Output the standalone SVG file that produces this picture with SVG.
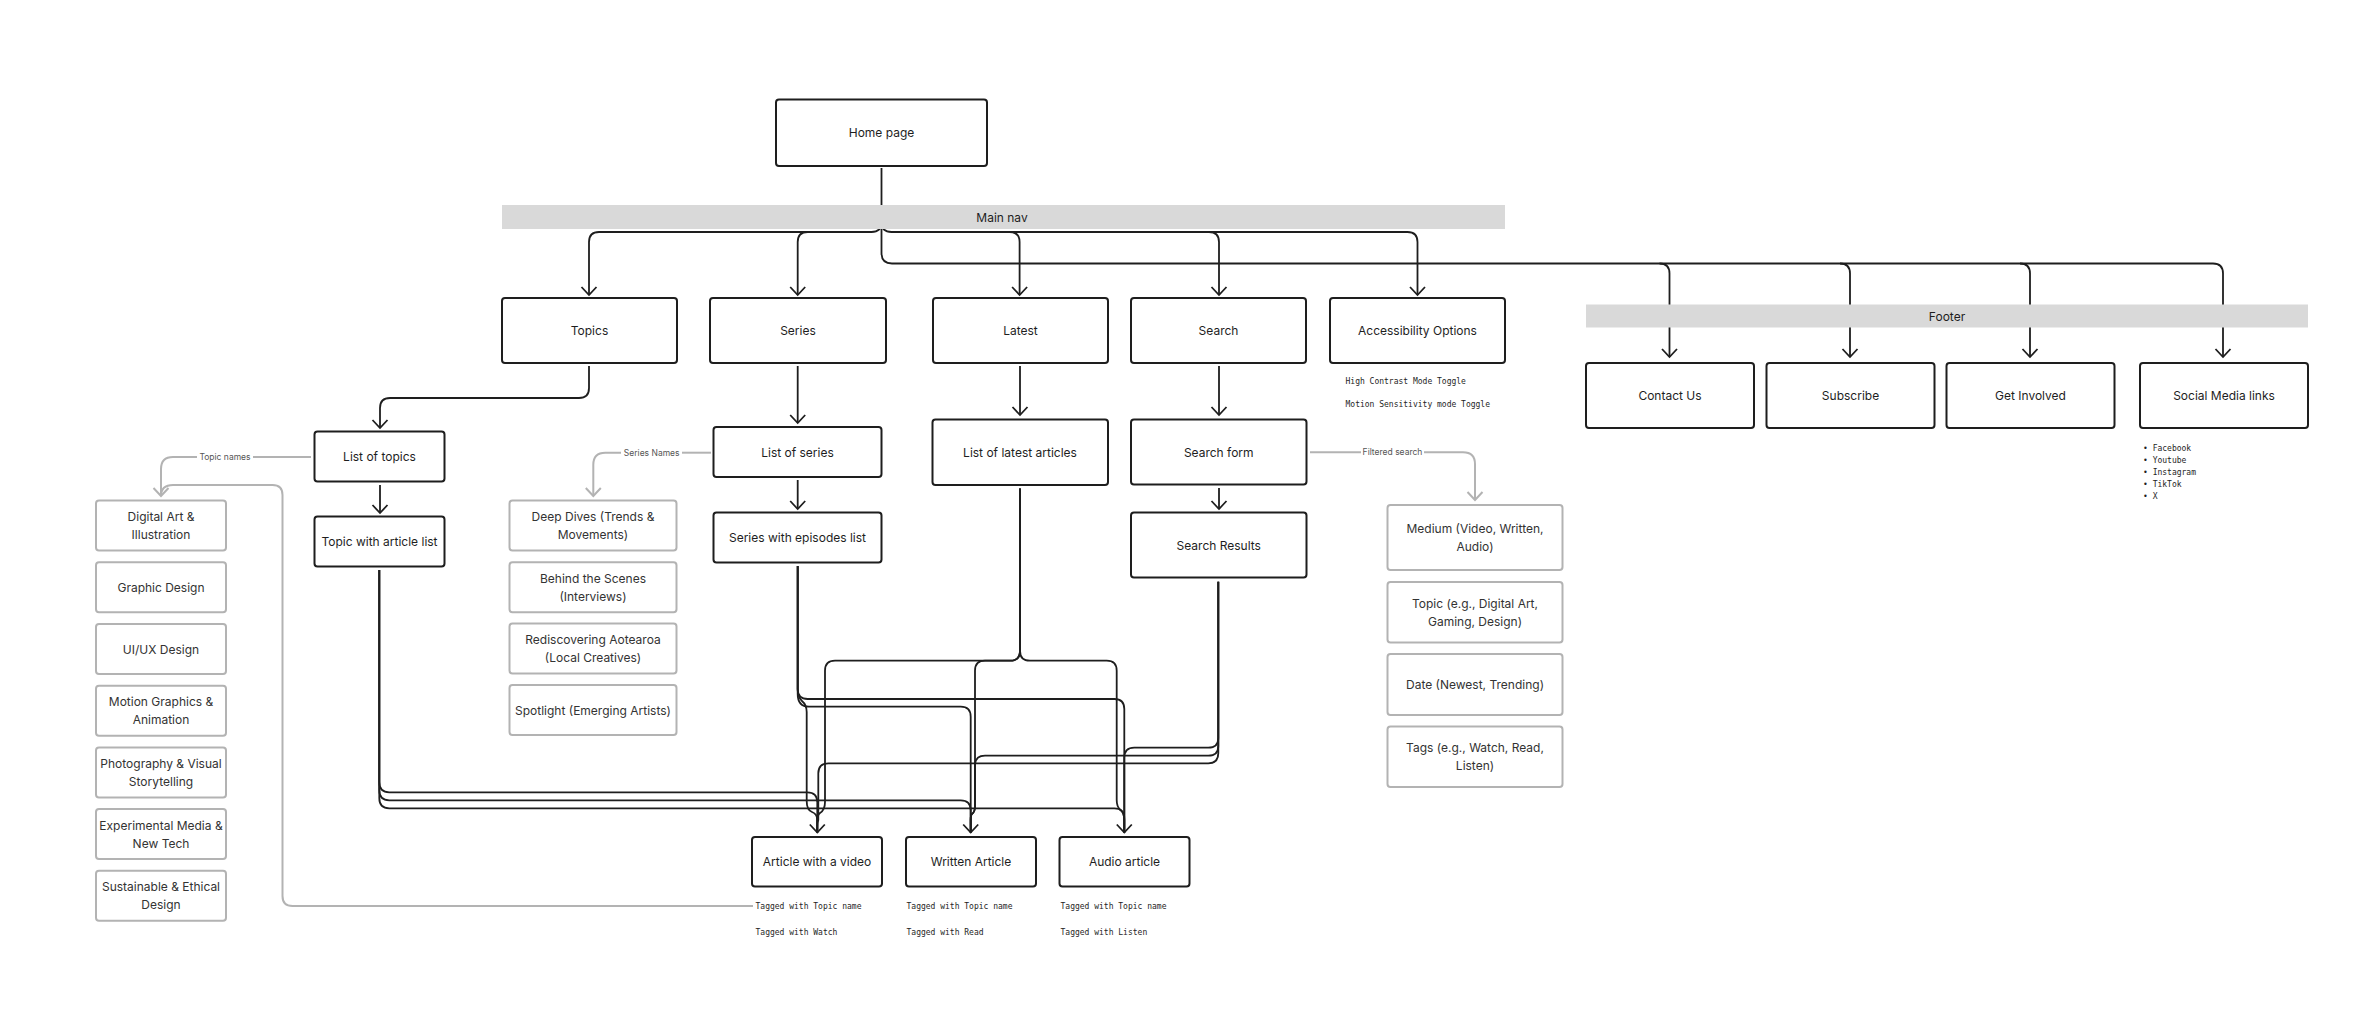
<svg xmlns="http://www.w3.org/2000/svg" width="2364" height="1028" viewBox="0 0 2364 1028">
<style>
.bg{fill:#ffffff}
.box{fill:#ffffff;stroke:#1e1e1e;stroke-width:2}
.gbox{fill:#ffffff;stroke:#b3b3b3;stroke-width:2}
.bar{fill:#d9d9d9}
.t{font-family:Inter,"Noto Sans","Liberation Sans",sans-serif;font-size:12px;fill:#1e1e1e;text-anchor:middle;dominant-baseline:central}
.gt{font-family:Inter,"Noto Sans","Liberation Sans",sans-serif;font-size:12px;fill:#333333;text-anchor:middle;dominant-baseline:central}
.lbl{font-family:Inter,"Noto Sans","Liberation Sans",sans-serif;font-size:8.5px;fill:#555555;text-anchor:middle;dominant-baseline:central}
.mono{font-family:"DejaVu Sans Mono","Liberation Mono",monospace;font-size:8px;fill:#1e1e1e}
.c{fill:none;stroke:#1e1e1e;stroke-width:1.8;stroke-linejoin:round}
.g{fill:none;stroke:#b3b3b3;stroke-width:2;stroke-linejoin:round}
</style>
<defs>
<marker id="ah" viewBox="-10 -10 20 20" markerUnits="userSpaceOnUse" markerWidth="20" markerHeight="20" refX="0" refY="0" orient="auto">
<path d="M-8,-7.5 L0,0 L-8,7.5" fill="none" stroke="#1e1e1e" stroke-width="1.8"/>
</marker>
<marker id="ahg" viewBox="-10 -10 20 20" markerUnits="userSpaceOnUse" markerWidth="20" markerHeight="20" refX="0" refY="0" orient="auto">
<path d="M-8,-7.5 L0,0 L-8,7.5" fill="none" stroke="#b3b3b3" stroke-width="2"/>
</marker>
</defs>
<rect class="bg" x="0" y="0" width="2364" height="1028"/>

<g id="connectors">
<!-- home to main nav / footer -->
<path class="c" d="M881.5 168 V253 Q881.5 263.5 892 263.5 H2213 Q2223 263.5 2223 273.5 V357" marker-end="url(#ah)"/>
<path class="c" d="M1659.5 263.5 Q1669.5 263.5 1669.5 273.5 V357" marker-end="url(#ah)"/>
<path class="c" d="M1840 263.5 Q1850 263.5 1850 273.5 V357" marker-end="url(#ah)"/>
<path class="c" d="M2020 263.5 Q2030 263.5 2030 273.5 V357" marker-end="url(#ah)"/>
<path class="c" d="M881.5 222 Q881.5 232 871.5 232 H599 Q589 232 589 242 V295" marker-end="url(#ah)"/>
<path class="c" d="M807.7 232 Q797.7 232 797.7 242 V295" marker-end="url(#ah)"/>
<path class="c" d="M881.5 222 Q881.5 232 891.5 232 H1407.5 Q1417.5 232 1417.5 242 V295" marker-end="url(#ah)"/>
<path class="c" d="M1009.6 232 Q1019.6 232 1019.6 242 V295" marker-end="url(#ah)"/>
<path class="c" d="M1209 232 Q1219 232 1219 242 V295" marker-end="url(#ah)"/>
<!-- second level -->
<path class="c" d="M589 366 V388 Q589 398 579 398 H390 Q380 398 380 408 V428" marker-end="url(#ah)"/>
<path class="c" d="M797.7 366 V423" marker-end="url(#ah)"/>
<path class="c" d="M1020 366 V415" marker-end="url(#ah)"/>
<path class="c" d="M1219 366 V415" marker-end="url(#ah)"/>
<path class="c" d="M380 485 V513" marker-end="url(#ah)"/>
<path class="c" d="M797.7 480 V509" marker-end="url(#ah)"/>
<path class="c" d="M1219 488 V509" marker-end="url(#ah)"/>
<!-- topic with article list -> articles -->
<path class="c" d="M379.3 570 V782 Q379.3 792.3 389.3 792.3 H807.3 Q817.3 792.3 817.3 802.3 V832.5" marker-end="url(#ah)"/>
<path class="c" d="M379.3 570 V790 Q379.3 800.3 389.3 800.3 H960.7 Q970.7 800.3 970.7 810.3 V832.5" marker-end="url(#ah)"/>
<path class="c" d="M379.3 570 V798 Q379.3 808.3 389.3 808.3 H1114.3 Q1124.3 808.3 1124.3 818.3 V832.5" marker-end="url(#ah)"/>
<!-- series with episodes -> articles -->
<path class="c" d="M797.7 566 V689 Q797.7 699 807.7 699 H1114.3 Q1124.3 699 1124.3 709 V832.5"/>
<path class="c" d="M797.7 566 V694 Q797.7 706.7 809 706.7 H960.7 Q970.7 706.7 970.7 716.7 V832.5"/>
<path class="c" d="M797.7 566 V689 Q797.7 697 802 701 Q806.7 705 806.7 712 V801 Q806.7 810 812 812 Q817.3 814 817.3 820 V832.5"/>
<!-- latest -> articles -->
<path class="c" d="M1020 488.6 V650.7 Q1020 660.7 1010 660.7 H835 Q825 660.7 825 670.7 V802 Q825 810 820 813 Q817.3 815 817.3 820 V832.5"/>
<path class="c" d="M1020 488.6 V650.7 Q1020 660.7 1010 660.7 H985 Q975 660.7 975 670.7 V806 Q975 812 972 814 Q970.7 815 970.7 820 V832.5"/>
<path class="c" d="M1020 488.6 V650.7 Q1020 660.7 1030 660.7 H1106.7 Q1116.7 660.7 1116.7 670.7 V800 Q1116.7 807 1120.5 810 Q1124.3 813 1124.3 820 V832.5"/>
<!-- search results -> articles -->
<path class="c" d="M1218.3 581.7 V737.7 Q1218.3 747.7 1208.3 747.7 H1134.3 Q1124.3 747.7 1124.3 757.7 V832.5"/>
<path class="c" d="M1218.3 581.7 V745.7 Q1218.3 755.7 1208.3 755.7 H985 Q975 755.7 975 765.7 V806 Q975 812 972 814 Q970.7 815 970.7 820 V832.5"/>
<path class="c" d="M1218.3 581.7 V753.3 Q1218.3 763.3 1208.3 763.3 H828.3 Q818.3 763.3 818.3 773.3 V820 Q817.3 822 817.3 826 V832.5"/>
<!-- gray annotation connectors -->
<path class="g" d="M311 457 H253"/>
<path class="g" d="M197 457 H173 Q161 457 161 469 V496" marker-end="url(#ahg)"/>
<path class="g" d="M711 452.7 H682"/>
<path class="g" d="M621 452.7 H605.3 Q593.3 452.7 593.3 464.7 V496" marker-end="url(#ahg)"/>
<path class="g" d="M1310 452.3 H1361"/>
<path class="g" d="M1424 452.3 H1463 Q1475 452.3 1475 464.3 V500" marker-end="url(#ahg)"/>
<path class="g" d="M753 906 H292.5 Q282.5 906 282.5 896 V495 Q282.5 485 272.5 485 H173 Q161 485 161 496"/>
</g>

<g id="node-home"><rect class="box" x="776" y="99.5" width="211" height="66.5" rx="3"/><text class="t" x="881.5" y="132.7">Home page</text></g>
<g id="node-mainnav"><rect class="bar" x="502" y="205" width="1003" height="24"/><text class="t" x="1002" y="217">Main nav</text></g>
<g id="node-footer"><rect class="bar" x="1586" y="304.5" width="722" height="23"/><text class="t" x="1947" y="316.5">Footer</text></g>

<g id="node-topics"><rect class="box" x="502" y="298" width="175" height="65" rx="3"/><text class="t" x="589.5" y="330.5">Topics</text></g>
<g id="node-series"><rect class="box" x="710" y="298" width="176" height="65" rx="3"/><text class="t" x="798" y="330.5">Series</text></g>
<g id="node-latest"><rect class="box" x="933" y="298" width="175" height="65" rx="3"/><text class="t" x="1020.5" y="330.5">Latest</text></g>
<g id="node-search"><rect class="box" x="1131" y="298" width="175" height="65" rx="3"/><text class="t" x="1218.5" y="330.5">Search</text></g>
<g id="node-access"><rect class="box" x="1330" y="298" width="175" height="65" rx="3"/><text class="t" x="1417.5" y="330.5">Accessibility Options</text></g>
<g id="note-access"><text class="mono" x="1345.5" y="384">High Contrast Mode Toggle</text><text class="mono" x="1345.5" y="407">Motion Sensitivity mode Toggle</text></g>

<g id="node-contact"><rect class="box" x="1586" y="363" width="168" height="65" rx="3"/><text class="t" x="1670" y="395.5">Contact Us</text></g>
<g id="node-subscribe"><rect class="box" x="1766.5" y="363" width="168" height="65" rx="3"/><text class="t" x="1850.5" y="395.5">Subscribe</text></g>
<g id="node-involved"><rect class="box" x="1946.5" y="363" width="168" height="65" rx="3"/><text class="t" x="2030.5" y="395.5">Get Involved</text></g>
<g id="node-social"><rect class="box" x="2140" y="363" width="168" height="65" rx="3"/><text class="t" x="2224" y="395.5">Social Media links</text></g>
<g id="note-social">
<text class="mono" x="2143" y="451">• Facebook</text>
<text class="mono" x="2143" y="463">• Youtube</text>
<text class="mono" x="2143" y="475">• Instagram</text>
<text class="mono" x="2143" y="487">• TikTok</text>
<text class="mono" x="2143" y="499">• X</text>
</g>

<g id="node-listtopics"><rect class="box" x="314.5" y="431.5" width="130" height="50" rx="3"/><text class="t" x="379.5" y="456.5">List of topics</text></g>
<g id="node-topiclist"><rect class="box" x="314.5" y="516.5" width="130" height="50" rx="3"/><text class="t" x="379.5" y="541.5">Topic with article list</text></g>
<g id="node-listseries"><rect class="box" x="713.5" y="427" width="168" height="50" rx="3"/><text class="t" x="797.5" y="452">List of series</text></g>
<g id="node-serieseps"><rect class="box" x="713.5" y="512.5" width="168" height="50" rx="3"/><text class="t" x="797.5" y="537.5">Series with episodes list</text></g>
<g id="node-listlatest"><rect class="box" x="932.5" y="419.5" width="175.5" height="65.5" rx="3"/><text class="t" x="1020" y="452.3">List of latest articles</text></g>
<g id="node-searchform"><rect class="box" x="1131" y="419.5" width="175.5" height="65" rx="3"/><text class="t" x="1218.75" y="452">Search form</text></g>
<g id="node-searchresults"><rect class="box" x="1131" y="512.5" width="175.5" height="65" rx="3"/><text class="t" x="1218.75" y="545">Search Results</text></g>

<g id="label-topicnames"><text class="lbl" x="225" y="457">Topic names</text></g>
<g id="label-seriesnames"><text class="lbl" x="651.7" y="452.7">Series Names</text></g>
<g id="label-filtered"><text class="lbl" x="1392.5" y="452.3">Filtered search</text></g>

<g id="topic-digital"><rect class="gbox" x="96" y="500.5" width="130" height="50" rx="3"/><text class="gt" x="161" y="516.5">Digital Art &amp;</text><text class="gt" x="161" y="534.5">Illustration</text></g>
<g id="topic-graphic"><rect class="gbox" x="96" y="562.3" width="130" height="50" rx="3"/><text class="gt" x="161" y="587.3">Graphic Design</text></g>
<g id="topic-uiux"><rect class="gbox" x="96" y="624" width="130" height="50" rx="3"/><text class="gt" x="161" y="649">UI/UX Design</text></g>
<g id="topic-motion"><rect class="gbox" x="96" y="685.8" width="130" height="50" rx="3"/><text class="gt" x="161" y="701.8">Motion Graphics &amp;</text><text class="gt" x="161" y="719.8">Animation</text></g>
<g id="topic-photo"><rect class="gbox" x="96" y="747.5" width="130" height="50" rx="3"/><text class="gt" x="161" y="763.5">Photography &amp; Visual</text><text class="gt" x="161" y="781.5">Storytelling</text></g>
<g id="topic-experimental"><rect class="gbox" x="96" y="809" width="130" height="50" rx="3"/><text class="gt" x="161" y="825">Experimental Media &amp;</text><text class="gt" x="161" y="843">New Tech</text></g>
<g id="topic-sustainable"><rect class="gbox" x="96" y="870.8" width="130" height="50" rx="3"/><text class="gt" x="161" y="886.8">Sustainable &amp; Ethical</text><text class="gt" x="161" y="904.8">Design</text></g>

<g id="series-deep"><rect class="gbox" x="509.5" y="500.5" width="167" height="50" rx="3"/><text class="gt" x="593" y="516.5">Deep Dives (Trends &amp;</text><text class="gt" x="593" y="534.5">Movements)</text></g>
<g id="series-behind"><rect class="gbox" x="509.5" y="562.3" width="167" height="50" rx="3"/><text class="gt" x="593" y="578.3">Behind the Scenes</text><text class="gt" x="593" y="596.3">(Interviews)</text></g>
<g id="series-rediscover"><rect class="gbox" x="509.5" y="623.5" width="167" height="50" rx="3"/><text class="gt" x="593" y="639.5">Rediscovering Aotearoa</text><text class="gt" x="593" y="657.5">(Local Creatives)</text></g>
<g id="series-spotlight"><rect class="gbox" x="509.5" y="685" width="167" height="50" rx="3"/><text class="gt" x="593" y="710">Spotlight (Emerging Artists)</text></g>

<g id="filter-medium"><rect class="gbox" x="1387.5" y="505" width="175" height="65" rx="3"/><text class="gt" x="1475" y="528.5">Medium (Video, Written,</text><text class="gt" x="1475" y="546.5">Audio)</text></g>
<g id="filter-topic"><rect class="gbox" x="1387.5" y="582" width="175" height="60.5" rx="3"/><text class="gt" x="1475" y="603.3">Topic (e.g., Digital Art,</text><text class="gt" x="1475" y="621.3">Gaming, Design)</text></g>
<g id="filter-date"><rect class="gbox" x="1387.5" y="654" width="175" height="61" rx="3"/><text class="gt" x="1475" y="684.5">Date (Newest, Trending)</text></g>
<g id="filter-tags"><rect class="gbox" x="1387.5" y="726.5" width="175" height="60.5" rx="3"/><text class="gt" x="1475" y="747.8">Tags (e.g., Watch, Read,</text><text class="gt" x="1475" y="765.8">Listen)</text></g>

<g id="node-video"><rect class="box" x="752" y="837" width="130" height="49.5" rx="3"/><text class="t" x="817" y="861.75">Article with a video</text></g>
<g id="node-written"><rect class="box" x="906" y="837" width="130" height="49.5" rx="3"/><text class="t" x="971" y="861.75">Written Article</text></g>
<g id="node-audio"><rect class="box" x="1059.5" y="837" width="130" height="49.5" rx="3"/><text class="t" x="1124.5" y="861.75">Audio article</text></g>
<g id="note-video"><text class="mono" x="755.5" y="909">Tagged with Topic name</text><text class="mono" x="755.5" y="935">Tagged with Watch</text></g>
<g id="note-written"><text class="mono" x="906.5" y="909">Tagged with Topic name</text><text class="mono" x="906.5" y="935">Tagged with Read</text></g>
<g id="note-audio"><text class="mono" x="1060.5" y="909">Tagged with Topic name</text><text class="mono" x="1060.5" y="935">Tagged with Listen</text></g>
</svg>
